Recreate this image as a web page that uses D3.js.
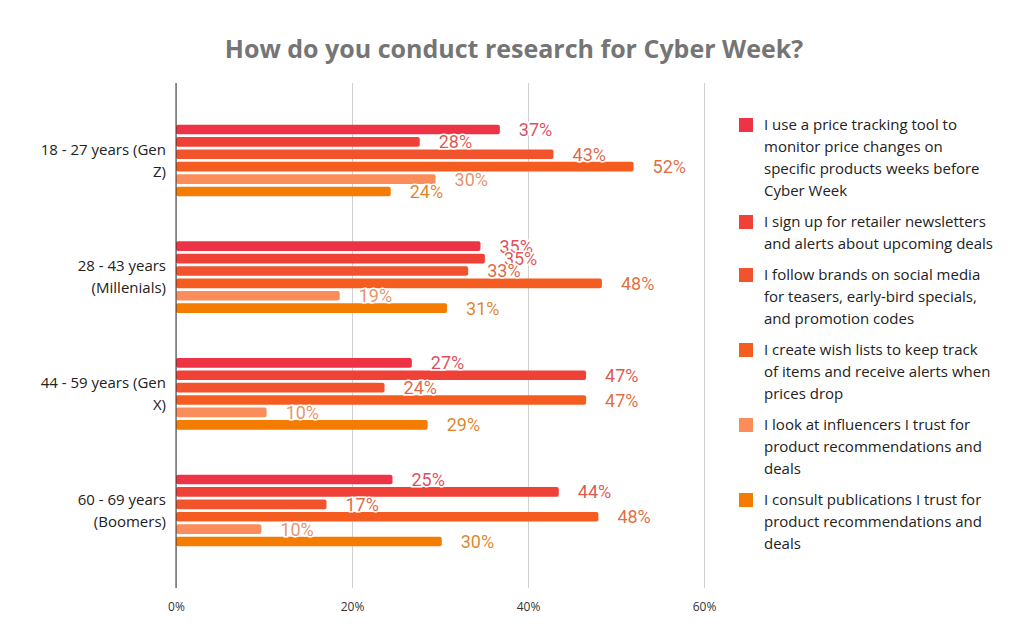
<!DOCTYPE html>
<html>
<head>
<meta charset="utf-8">
<script src="https://cdn.jsdelivr.net/npm/d3@7"></script>
<style>
  body { margin: 0; background: #fff; }
  svg { display: block; }
</style>
</head>
<body>
<div id="chart"></div>
<script>
// Age groups, each split on two lines as in the reference
const groups = [ "Gen Z", "Millenials", "Gen X", "Boomers" ];
const groupLines = [
  [ "18 - 27 years (Gen", "Z)" ],
  [ "28 - 43 years", "(Millenials)" ],
  [ "44 - 59 years (Gen", "X)" ],
  [ "60 - 69 years", "(Boomers)" ]
];

const series = [ "tracking", "newsletters", "social", "wishlists", "influencers", "publications" ];
const seriesLines = [
  [ "I use a price tracking tool to", "monitor price changes on", "specific products weeks before", "Cyber Week" ],
  [ "I sign up for retailer newsletters", "and alerts about upcoming deals" ],
  [ "I follow brands on social media", "for teasers, early-bird specials,", "and promotion codes" ],
  [ "I create wish lists to keep track", "of items and receive alerts when", "prices drop" ],
  [ "I look at influencers I trust for", "product recommendations and", "deals" ],
  [ "I consult publications I trust for", "product recommendations and", "deals" ]
];
const colors = [ "#ef3347", "#ef4136", "#f1542c", "#f45d1f", "#fa8d5a", "#f47c00" ];

// percent per series, one value per age group
const tracking     = [ 36.8, 34.6, 26.8, 24.6 ];
const newsletters  = [ 27.7, 35.1, 46.6, 43.5 ];
const social       = [ 42.9, 33.2, 23.7, 17.1 ];
const wishlists    = [ 52.0, 48.4, 46.6, 48.0 ];
const influencers  = [ 29.5, 18.6, 10.3,  9.7 ];
const publications = [ 24.4, 30.8, 28.6, 30.2 ];

const xTicks = [ 0, 20, 40, 60 ];

const values = [ tracking, newsletters, social, wishlists, influencers, publications ];

const width = 1024, height = 644;
const svg = d3.select( "#chart" )
  .append( "svg" )
  .attr( "width", width )
  .attr( "height", height );

const x = d3.scaleLinear().domain( [ 0, 60 ] ).range( [ 176, 704 ] );
const y0 = d3.scaleBand().domain( groups ).range( [ 83, 588 ] )
  .paddingInner( 0.386 ).paddingOuter( 0.357 );
const y1 = d3.scaleBand().domain( series ).range( [ 0, y0.bandwidth() ] )
  .paddingInner( 0.22 );

// title
svg.append( "text" )
  .attr( "x", 514 )
  .attr( "y", 58 )
  .attr( "text-anchor", "middle" )
  .style( "font-family", "'Open Sans', sans-serif" )
  .style( "font-weight", "bold" )
  .style( "font-size", "25px" )
  .style( "fill", "#757575" )
  .text( "How do you conduct research for Cyber Week?" );

// gridlines + tick labels
const xAxis = svg.append( "g" )
  .attr( "transform", "translate(0,588)" )
  .call( d3.axisBottom( x ).tickValues( xTicks ).tickFormat( d => d + "%" )
    .tickSize( -505 ).tickPadding( 14 ) );
xAxis.select( ".domain" ).remove();
xAxis.selectAll( ".tick line" ).attr( "stroke", "#d0d0d0" );
xAxis.selectAll( ".tick text" )
  .style( "font-family", "'Open Sans', sans-serif" )
  .style( "font-size", "12px" )
  .style( "fill", "#333" );

// bars
const groupG = svg.append( "g" )
  .selectAll( "g" )
  .data( groups )
  .join( "g" )
  .attr( "transform", d => `translate(0,${ y0( d ) })` );

groupG.selectAll( "rect" )
  .data( ( g, gi ) => series.map( ( s, si ) => ( { s, si, v: values[ si ][ gi ] } ) ) )
  .join( "rect" )
  .attr( "x", x( 0 ) )
  .attr( "y", d => y1( d.s ) )
  .attr( "width", d => x( d.v ) - x( 0 ) )
  .attr( "height", y1.bandwidth() )
  .attr( "rx", 2 )
  .attr( "fill", d => colors[ d.si ] );

// axis line on top of bars
svg.append( "line" )
  .attr( "x1", x( 0 ) ).attr( "x2", x( 0 ) )
  .attr( "y1", 83 ).attr( "y2", 588 )
  .attr( "stroke", "#333" );

// value labels
groupG.selectAll( "text.val" )
  .data( ( g, gi ) => series.map( ( s, si ) => ( { s, si, v: values[ si ][ gi ] } ) ) )
  .join( "text" )
  .attr( "class", "val" )
  .attr( "x", d => x( d.v ) + 19 )
  .attr( "y", d => y1( d.s ) + y1.bandwidth() / 2 )
  .attr( "dy", "0.36em" )
  .style( "font-family", "Roboto, sans-serif" )
  .style( "font-size", "18px" )
  .style( "fill", d => d3.color( colors[ d.si ] ).darker( 0.3 ) )
  .style( "fill-opacity", 0.85 )
  .style( "stroke", "#fff" )
  .style( "stroke-width", 3 )
  .style( "paint-order", "stroke" )
  .text( d => Math.round( d.v ) + "%" );

// category labels
svg.append( "g" )
  .selectAll( "text" )
  .data( groups )
  .join( "text" )
  .attr( "x", 166 )
  .attr( "y", d => y0( d ) + y0.bandwidth() / 2 - 11 )
  .attr( "dy", "0.35em" )
  .attr( "text-anchor", "end" )
  .style( "font-family", "'Open Sans', sans-serif" )
  .style( "font-size", "15px" )
  .style( "fill", "#222" )
  .selectAll( "tspan" )
  .data( ( d, i ) => groupLines[ i ] )
  .join( "tspan" )
  .attr( "x", 166 )
  .attr( "dy", ( d, i ) => i === 0 ? "0.35em" : 22 )
  .text( d => d );

// legend
const legendTop = [ 130, 227, 280, 355, 430, 505 ];
const legend = svg.append( "g" )
  .selectAll( "g" )
  .data( series )
  .join( "g" )
  .attr( "transform", ( d, i ) => `translate(739,${ legendTop[ i ] })` );

legend.append( "rect" )
  .attr( "x", 0 )
  .attr( "y", -12 )
  .attr( "width", 14 )
  .attr( "height", 14 )
  .attr( "fill", ( d, i ) => colors[ i ] );

legend.append( "text" )
  .style( "font-family", "'Open Sans', sans-serif" )
  .style( "font-size", "15px" )
  .style( "fill", "#222" )
  .selectAll( "tspan" )
  .data( ( d, i ) => seriesLines[ i ] )
  .join( "tspan" )
  .attr( "x", 25 )
  .attr( "y", ( d, i ) => i * 22 )
  .text( d => d );
</script>
</body>
</html>
